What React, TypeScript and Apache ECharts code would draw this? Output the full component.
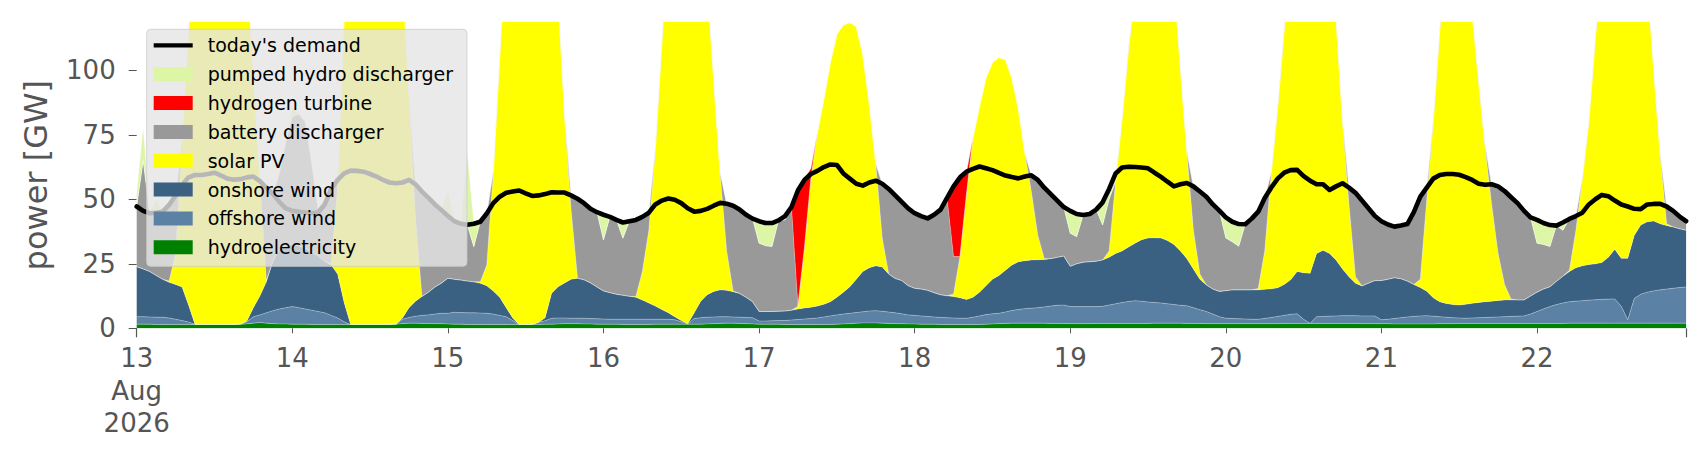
import React, { useEffect, useRef } from 'react';
import * as echarts from 'echarts';

// hourly categories: 13 Aug 2026 00:00 .. 22 Aug 2026 23:00
const HOURS = 240;
const categories: string[] = Array.from({ length: HOURS }, (_, i) =>
  `2026-08-${String(13 + Math.floor(i / 24)).padStart(2, '0')} ${String(i % 24).padStart(2, '0')}:00`
);
const dayTickLabels = ['13\nAug\n2026', '14', '15', '16', '17', '18', '19', '20', '21', '22'];
const yTicks = [0, 25, 50, 75, 100];

const demand = [
  47.2,45.5,44.6,44.8,45.2,47.8,51.5,55.5,58.5,59.4,59.4,59.8,60.3,59.2,58.0,57.6,57.8,58.5,58.8,57.0,54.5,52.0,49.0,46.5,
  45.5,45.2,44.9,44.6,45.0,48.0,54.0,57.5,60.0,61.1,61.0,60.7,59.8,58.8,57.5,56.5,56.2,56.5,57.5,55.8,53.0,50.5,48.0,45.8,
  43.5,41.5,40.5,40.1,40.5,41.3,44.5,48.5,51.0,52.5,53.0,53.4,52.3,51.3,51.5,52.0,52.7,52.6,52.6,51.5,50.2,48.5,46.3,45.0,
  44.0,43.2,42.0,41.0,41.5,42.0,43.2,44.8,48.0,49.5,50.3,49.8,48.5,46.5,45.2,45.5,46.3,47.5,48.6,48.3,47.5,46.0,44.0,42.5,
  41.5,40.8,40.8,41.8,43.5,47.0,53.5,57.5,59.8,61.0,62.5,63.5,63.3,60.0,58.0,56.0,55.3,56.5,57.2,56.0,54.0,51.5,49.0,46.5,
  44.6,43.5,42.6,44.0,46.0,50.5,55.0,58.5,60.7,61.8,62.7,62.0,61.3,60.2,59.2,58.6,58.1,58.8,59.3,57.5,54.5,52.0,49.5,47.0,
  45.5,44.3,43.9,44.3,46.0,48.8,54.0,60.0,62.3,62.6,62.5,62.3,62.0,60.3,58.7,56.8,55.0,55.8,56.3,55.0,53.0,51.0,48.0,45.6,
  43.0,41.3,40.4,40.3,42.5,45.2,50.5,54.5,58.0,60.3,61.3,61.4,59.0,57.2,55.8,55.8,53.6,55.0,56.2,54.5,52.5,49.5,46.5,43.5,
  41.5,40.2,39.4,39.8,40.4,45.0,51.0,54.5,58.0,59.4,59.8,59.8,59.5,58.6,57.5,56.0,55.6,55.8,55.0,53.2,50.8,48.5,45.5,43.0,
  42.0,40.8,40.0,39.8,41.0,42.4,43.5,44.8,48.0,50.0,51.7,51.2,49.5,48.0,47.2,46.3,46.2,48.0,48.2,48.2,47.2,45.5,43.3,41.5,
];

const hydroelectricity = [
  1.6,1.6,1.6,1.5,1.5,1.5,1.5,1.5,1.5,1.5,1.5,1.5,1.5,1.5,1.5,1.5,1.6,1.7,2.0,2.2,2.0,1.8,1.7,1.7,
  1.6,1.6,1.6,1.5,1.5,1.5,1.5,1.5,1.5,1.5,1.5,1.5,1.5,1.5,1.5,1.5,1.6,1.8,2.0,2.0,1.9,1.9,1.8,1.8,
  1.7,1.6,1.6,1.5,1.5,1.5,1.5,1.5,1.5,1.5,1.5,1.5,1.5,1.5,1.5,1.6,1.6,1.7,1.8,1.8,1.8,1.7,1.7,1.6,
  1.6,1.6,1.6,1.5,1.5,1.5,1.5,1.5,1.6,1.6,1.6,1.6,1.6,1.6,1.6,1.6,1.7,1.8,1.9,2.0,2.0,1.9,1.8,1.7,
  1.6,1.6,1.6,1.6,1.5,1.5,1.5,1.5,1.5,1.5,1.5,1.5,1.6,1.7,1.8,2.0,2.1,2.1,2.1,2.0,1.9,1.8,1.8,1.7,
  1.7,1.6,1.6,1.6,1.5,1.5,1.5,1.5,1.5,1.5,1.5,1.6,1.7,1.8,1.9,2.0,2.0,2.0,2.0,2.0,2.0,1.9,1.9,1.9,
  1.8,1.8,1.8,1.8,1.9,1.9,1.9,1.9,1.9,1.9,1.9,1.9,1.9,2.0,2.0,2.0,2.0,2.0,1.9,1.9,1.9,1.8,1.8,1.8,
  1.8,1.8,1.8,1.8,1.8,1.8,1.8,1.8,1.8,1.9,1.9,1.9,1.9,1.9,1.9,1.9,1.9,1.9,1.9,1.9,1.9,1.8,1.8,1.8,
  1.8,1.8,1.7,1.7,1.7,1.7,1.7,1.7,1.7,1.8,1.8,1.8,1.9,1.9,1.9,1.9,1.9,1.9,1.9,1.9,1.9,1.9,1.9,1.9,
  1.9,1.9,1.9,1.9,1.9,2.0,2.0,2.0,2.0,2.0,2.0,2.0,2.0,2.0,2.0,2.0,2.0,2.0,2.0,2.0,2.0,2.0,2.0,2.0,
];

const offshoreWind = [
  2.9,2.9,2.8,2.8,2.8,2.5,2.0,1.5,0.9,0,0,0,0,0,0,0,0,0.8,2.5,3.0,4.0,5.0,5.8,6.3,
  6.8,6.4,5.9,5.5,5.0,4.5,3.5,2.5,1.0,0,0,0,0,0,0,0,0,1.7,2.2,2.7,3.1,3.3,3.7,4.0,
  4.1,4.6,4.5,4.5,4.5,4.4,4.3,4.0,3.5,3.0,1.5,0,0,0,0.8,1.3,2.3,2.3,2.2,2.1,2.1,2.2,2.1,2.1,
  2.0,1.9,1.9,2.0,2.0,2.0,2.0,2.0,1.9,1.9,1.9,1.7,0.9,0.1,2.2,2.5,2.6,2.6,2.6,2.5,2.4,2.4,2.4,2.4,
  1.2,1.2,1.3,1.4,1.5,1.7,1.9,2.1,2.3,2.5,2.9,3.3,3.6,3.8,4.0,4.1,4.3,4.6,4.7,4.6,4.4,4.2,3.8,3.5,
  3.3,3.2,3.0,2.8,2.7,2.6,2.5,2.4,2.4,2.8,3.3,3.7,3.9,4.0,4.4,4.9,5.3,5.6,5.8,6.0,6.3,6.7,7.0,7.1,
  6.6,6.6,6.6,6.6,6.5,6.6,7.1,7.6,8.1,8.5,8.8,8.6,8.3,8.0,7.8,7.5,7.2,6.9,6.8,6.1,5.3,4.7,3.7,2.7,
  2.1,2.0,1.9,1.8,1.7,1.7,2.0,2.4,2.8,3.1,3.5,3.7,1.6,0,2.6,2.7,2.8,2.9,3.0,3.0,3.0,3.0,3.0,3.0,
  1.5,1.7,2.1,2.4,2.7,2.9,3.1,3.2,3.0,2.7,2.5,2.3,2.1,2.0,2.1,2.2,2.3,2.4,2.5,2.6,2.7,2.8,2.9,3.6,
  4.6,5.6,6.5,7.3,7.9,8.3,8.5,8.7,8.9,9.1,9.2,9.3,9.4,6.5,1.3,9.5,11.2,12.0,12.5,12.9,13.2,13.5,13.8,14.0,
];

const onshoreWind = [
  19.4,18.5,17.6,16.2,14.7,13.8,13.5,13.0,6.6,0,0,0,0,0,0,0,0,0.3,3.5,7.3,12.0,19.2,23.0,24.0,
  24.1,24.0,23.5,22.5,21.5,20.0,19.5,17.0,7.5,0,0,0,0,0,0,0,0,0.5,3.8,5.8,7.3,8.8,10.5,11.7,
  13.6,12.8,12.6,12.3,12.0,11.6,10.7,9.0,7.0,3.5,1.0,0,0,0,0,1.2,9.7,12.1,13.6,15.1,15.5,14.9,13.8,12.3,
  10.9,10.3,9.7,9.3,8.9,8.5,7.5,6.3,5.1,3.8,2.5,1.2,0.5,0.1,2.2,6.4,8.7,9.9,10.4,10.2,9.8,9.2,7.8,6.2,
  3.7,3.7,3.6,3.6,3.7,3.8,4.1,4.3,4.4,4.6,4.9,5.5,6.8,8.5,10.3,12.9,15.6,16.8,17.4,17.2,14.7,13.3,12.9,11.3,
  10.5,10.4,10.1,9.4,8.8,8.5,8.3,7.9,7.3,7.7,9.2,11.2,13.4,14.7,16.2,17.6,18.5,18.6,18.7,18.6,18.4,18.4,18.6,19.0,
  15.6,16.6,17.2,17.4,17.6,18.0,18.5,19.5,20.0,21.1,22.3,23.8,24.8,25.1,25.2,24.5,23.3,21.1,18.3,15.0,11.8,10.3,9.7,9.8,
  10.7,11.1,11.2,11.3,11.4,11.4,11.3,11.1,11.1,12.0,13.4,16.4,18.0,19.4,24.5,25.6,24.3,21.7,18.1,15.1,12.6,11.6,12.7,13.7,
  15.2,15.5,15.8,15.1,13.9,12.4,11.0,9.5,7.1,5.8,5.3,5.1,5.0,5.4,5.7,5.9,6.1,6.2,6.4,6.5,6.4,6.3,6.2,7.0,
  7.5,7.7,7.7,9.0,10.4,11.7,13.0,13.5,13.8,13.9,14.3,16.2,19.2,18.6,23.8,24.5,26.8,27.3,27.1,25.6,24.6,23.8,22.8,22.0,
];

const solarPV = [
  0,0,0,0,0,0.5,12,56,106,148.5,170.5,181.5,184.5,181.5,173.5,160.5,148.4,136.2,90,44.5,0.5,0,0,0,
  0,0,0,0,0,0,0.5,34,110,158.5,183.5,193.5,193.5,188.5,176.5,161.5,148.4,133,82,32.5,0,0,0,0,
  0,0,0,0,0,0.5,8,45.5,93,142,171,186.5,193.5,193.5,187.7,171,141.4,112,64.5,27,0,0,0,0,
  0,0,0,0,0,0.3,11,28.2,60.4,102.7,144,170.5,187,193.2,184,159.5,120,81.7,45.1,15.3,0.3,0,0,0,
  0,0,0,0,0,0,1,23.1,49.8,67.4,79.7,92.7,102,103.5,102.4,98,84,63.5,39.8,11.2,0,0,0,0,
  0,0,0,0,0,0,1,16,40.8,62,72,80.5,84,84.5,81.5,72.5,59.2,41.8,26.5,9.4,0.3,0,0,0,
  0,0,0,0,0,0,2.5,28,51,76.5,97,115.7,125,127.9,125,116,102.5,70,41,15,2,0,0,0,
  0,0,0,0,0,0.5,14.9,44.7,69.3,98,126.2,143,153.5,156.7,149,139.8,121,93.5,57,28,2.5,0,0,0,
  0,0,0,0,0,0,3.2,35.6,68.2,104.7,135.4,150.8,151,140.7,112.3,85,59.7,37.5,18.2,6,0.3,0,0,0,
  0,0,0,0,0,0.5,14.5,33.8,55.3,87,114.5,132.5,139.4,142.9,137.9,124,110,93.7,58.4,26.5,0.7,0,0,0,
];

const batteryDischarger = [
  23.3,42.0,22.6,23.5,26.2,29.5,22.5,1.5,0.8,0,0,0,0,0,0,0,0,0.8,1.0,1.5,36.0,26.0,29.5,40.0,
  49.5,51.0,49.0,34.5,18.0,22.0,29.0,2.5,1.0,0,0,0,0,0,0,0,0,1.0,0.5,12.8,40.7,36.5,32.0,28.3,
  24.1,22.5,21.8,21.8,13.6,23.3,20.0,1.0,1.0,0.5,0,0,0,0,0,0,0,1.0,1.0,5.5,30.8,29.7,28.7,29.0,
  19.7,29.4,28.8,22.1,29.1,29.7,21.2,6.8,1.0,1.0,0.5,0,0,0,0,0,1.0,1.0,0.5,18.3,33.0,32.5,32.0,32.2,
  26.5,25.5,25.2,35.2,35.3,40.0,0,0,0,0,0,0,0,0,0,0,0,0,0,21.0,33.0,32.2,30.5,30.0,
  29.1,28.3,27.9,30.2,33.0,37.9,14.5,0,0,0,0,0,0,0,0,0,0,0,6.3,21.5,27.5,25.0,22.0,19.0,
  12.8,10.5,18.3,18.5,20.0,13.5,20.0,0,0.5,1.0,0.5,0,0,0,0,0,0.5,1.0,0.5,17.0,32.0,34.2,32.8,31.3,
  20.4,18.6,16.9,25.4,26.6,29.8,20.5,0.5,1.0,1.0,0.5,0,0,0,0,0,0.5,1.0,1.0,6.5,32.5,33.1,29.0,25.0,
  23.0,21.2,19.8,20.6,22.1,28.0,32.0,4.5,1.0,1.0,0.5,0,0,0,0.5,1.0,1.0,7.8,26.0,36.2,39.5,37.5,34.5,30.5,
  19.0,17.3,15.6,21.6,17.8,19.9,5.5,0.5,0.5,1.0,0,0,0,0,0,0,0,0.5,1.0,1.0,6.7,6.2,4.7,3.5,
];

const hydrogenTurbine = [
  0,0,0,0,0,0,0,0,0,0,0,0,0,0,0,0,0,0,0,0,0,0,0,0,
  0,0,0,0,0,0,0,0,0,0,0,0,0,0,0,0,0,0,0,0,0,0,0,0,
  0,0,0,0,0,0,0,0,0,0,0,0,0,0,0,0,0,0,0,0,0,0,0,0,
  0,0,0,0,0,0,0,0,0,0,0,0,0,0,0,0,0,0,0,0,0,0,0,0,
  0,0,0,0,0,0,45,27,4,0,0,0,0,0,0,0,0,0,0,0,0,0,0,0,
  0,0,0,0,0,0,27.2,30.7,8.7,0,0,0,0,0,0,0,0,0,0,0,0,0,0,0,
  0,0,0,0,0,0,0,0,0,0,0,0,0,0,0,0,0,0,0,0,0,0,0,0,
  0,0,0,0,0,0,0,0,0,0,0,0,0,0,0,0,0,0,0,0,0,0,0,0,
  0,0,0,0,0,0,0,0,0,0,0,0,0,0,0,0,0,0,0,0,0,0,0,0,
  0,0,0,0,0,0,0,0,0,0,0,0,0,0,0,0,0,0,0,0,0,0,0,0,
];

const pumpedHydro = [
  4.8,13,0,6,0,0,0,0,0,0,0,0,0,0,0,0,0,0,0,0,0,0,0,1,
  4,0,0,0,0,0,0,0,0,0,0,0,0,0,0,0,0,0,0,0,0,0,0,0,
  10.1,0,0,27.9,8.9,0,0,0,0,0,0,0,0,0,0,0,0,0,0,0,0,0,0,0,
  9.8,0,0,6.1,0,0,0,0,0,0,0,0,0,0,0,0,0,0,0,0,0,0,0,0,
  8.5,8.8,9.1,0,1.5,0,0,0,0,0,0,0,0,0,0,0,0,0,0,0,0,0,0,0,
  0,0,0,0,0,0,0,0,0,0,0,0,0,0,0,0,0,0,0,0,0,0,0,0,
  8.7,8.8,0,0,0,8.8,4.0,3.0,0,0,0,0,0,0,0,0,0,0,0,0,0,0,0,0,
  8.0,7.8,8.6,0,1.0,0,0,0,0,0,0,0,0,0,0,0,0,0,0,0,0,0,0,0,
  0,0,0,0,0,0,0,0,0,0,0,0,0,0,0,0,0,0,0,0,0,0,0,0,
  9.0,8.3,8.3,0,3.0,0,0,0,0,0,0,0,0,0,0,0,0,0,0,0,0,0,0,0,
];

const stackedSeries = [
  { name: 'hydroelectricity', data: hydroelectricity, color: '#008000' },
  { name: 'offshore wind', data: offshoreWind, color: '#5b82a4' },
  { name: 'onshore wind', data: onshoreWind, color: '#3b6182' },
  { name: 'solar PV', data: solarPV, color: '#ffff00' },
  { name: 'battery discharger', data: batteryDischarger, color: '#999999' },
  { name: 'hydrogen turbine', data: hydrogenTurbine, color: '#ff0000' },
  { name: 'pumped hydro discharger', data: pumpedHydro, color: '#dcf6a6' },
];

const legendOrder = [
  "today's demand",
  'pumped hydro discharger',
  'hydrogen turbine',
  'battery discharger',
  'solar PV',
  'onshore wind',
  'offshore wind',
  'hydroelectricity',
];

const FONT = 'DejaVu Sans';

export default function App() {
  const ref = useRef<HTMLDivElement>(null);

  useEffect(() => {
    if (!ref.current) return;
    const chart = echarts.init(ref.current, null, { renderer: 'svg' });

    const colorOf = (n: string) => {
      const s = stackedSeries.find((x) => x.name === n);
      return s ? s.color : '#000000';
    };

    const option: any = {
      animation: false,
      backgroundColor: '#ffffff',
      grid: {
        left: 136.7,
        right: 19.9,
        top: 22,
        bottom: 131.7,
        containLabel: false,
        outerBoundsMode: 'none',
      },
      xAxis: [
        {
          type: 'category',
          data: categories,
          boundaryGap: false,
          axisLine: { show: false },
          axisTick: {
            show: true,
            length: 5,
            interval: (i: number) => i % 24 === 0,
            lineStyle: { color: '#555555', width: 1 },
          },
          axisLabel: {
            interval: (i: number) => i % 24 === 0,
            formatter: (_v: string, i: number) => dayTickLabels[Math.floor(i / 24)],
            color: '#555555',
            fontSize: 26,
            fontFamily: FONT,
            lineHeight: 32.5,
            margin: 13.5,
          },
          splitLine: { show: false },
        },
        {
          // longer ticks at both ends of the time range
          type: 'category',
          data: categories,
          boundaryGap: false,
          position: 'bottom',
          axisLine: { show: false },
          axisTick: {
            show: true,
            length: 9,
            interval: (i: number) => i === 0 || i === HOURS - 1,
            lineStyle: { color: '#555555', width: 1.2 },
          },
          axisLabel: { show: false },
          splitLine: { show: false },
        },
      ],
      yAxis: {
        type: 'value',
        min: 0,
        max: 118.7,
        axisLine: { show: false },
        axisTick: {
          show: true,
          length: 8,
          customValues: yTicks,
          lineStyle: { color: '#555555', width: 1 },
        },
        axisLabel: {
          customValues: yTicks,
          color: '#555555',
          fontSize: 26,
          fontFamily: FONT,
          margin: 21,
        },
        splitLine: { show: false },
      },
      legend: {
        orient: 'vertical',
        left: 146.7,
        top: 29.3,
        padding: [6, 14, 9, 7],
        itemWidth: 39,
        itemHeight: 14,
        itemGap: 8.86,
        backgroundColor: 'rgba(229,229,229,0.8)',
        borderColor: 'rgba(204,204,204,0.8)',
        borderWidth: 1,
        borderRadius: 4,
        selectedMode: false,
        textStyle: {
          fontFamily: FONT,
          fontSize: 19,
          color: '#000000',
          lineHeight: 20,
          padding: [0, 0, 0, 10],
        },
        data: legendOrder.map((n) =>
          n === "today's demand"
            ? {
                name: n,
                icon: 'path://M0,0 L44,0 L44,4.8 L0,4.8 Z',
                itemStyle: { color: '#000000', borderWidth: 0 },
              }
            : { name: n, icon: 'rect', itemStyle: { color: colorOf(n), borderWidth: 0 } }
        ),
      },
      graphic: [
        {
          type: 'text',
          x: 36,
          y: 175.2,
          rotation: Math.PI / 2,
          silent: true,
          style: {
            text: 'power [GW]',
            font: `32px "${FONT}"`,
            fill: '#555555',
            align: 'center',
            verticalAlign: 'middle',
          },
        },
      ],
      series: [
        ...stackedSeries.map((s) => ({
          name: s.name,
          type: 'line',
          stack: 'supply',
          xAxisIndex: 0,
          data: s.data,
          color: s.color,
          symbol: 'none',
          showSymbol: false,
          silent: true,
          z: 2,
          lineStyle: { width: 0.6, color: 'rgba(255,255,255,0.5)' },
          itemStyle: { color: s.color },
          areaStyle: { color: s.color, opacity: 1 },
          emphasis: { disabled: true },
        })),
        {
          name: "today's demand",
          type: 'line',
          xAxisIndex: 0,
          data: demand,
          color: '#000000',
          symbol: 'none',
          showSymbol: false,
          silent: true,
          z: 3,
          lineStyle: { width: 4.6, color: '#000000', cap: 'round', join: 'round' },
          itemStyle: { color: '#000000' },
          emphasis: { disabled: true },
        },
      ],
    };

    chart.setOption(option);
    return () => chart.dispose();
  }, []);

  return (
    <div
      ref={ref}
      style={{ position: 'absolute', left: 0, top: 0, width: 1706, height: 460, background: '#ffffff' }}
    />
  );
}
